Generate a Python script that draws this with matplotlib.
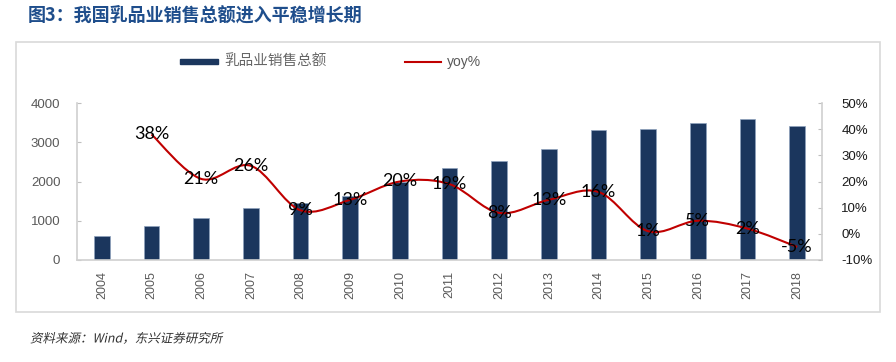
import matplotlib
matplotlib.use("Agg")
import matplotlib.pyplot as plt
from matplotlib.path import Path
from matplotlib.patches import PathPatch, Rectangle
from matplotlib.lines import Line2D
from matplotlib.patheffects import AbstractPathEffect
from matplotlib.transforms import Affine2D
import numpy as np

years = ["2004", "2005", "2006", "2007", "2008", "2009", "2010", "2011",
         "2012", "2013", "2014", "2015", "2016", "2017", "2018"]
sales = [610, 870, 1060, 1315, 1440, 1630, 1980, 2335,
         2515, 2820, 3300, 3330, 3485, 3590, 3405]
yoy_years = years[1:]
yoy = [38, 21, 26, 9, 13, 20, 19, 8, 13, 16, 1, 5, 2, -5]
yoy_labels = ["38%", "21%", "26%", "9%", "13%", "20%", "19%", "8%",
              "13%", "16%", "1%", "5%", "2%", "-5%"]

title = "图3：我国乳品业销售总额进入平稳增长期"
legend_bar = "乳品业销售总额"
legend_line = "yoy%"
source = "资料来源：Wind，东兴证券研究所"


class Oblique(AbstractPathEffect):
    """Synthetic italic: shear glyph outlines about the baseline."""
    def __init__(self, angle=12):
        super().__init__()
        self._skew = Affine2D().skew_deg(angle, 0)

    def draw_path(self, renderer, gc, tpath, affine, rgbFace=None):
        renderer.draw_path(gc, tpath, self._skew + affine, rgbFace)


plt.rcParams['font.family'] = ['Liberation Sans', 'Noto Sans CJK SC']

fig = plt.figure(figsize=(8.96, 3.62), dpi=100)

# outer frame
fig.patches.append(Rectangle((16/896, 1-312/362), (880-16)/896, (312-42)/362,
                             transform=fig.transFigure, fill=False,
                             edgecolor="#d9d9d9", linewidth=1.2))

ax = fig.add_axes([77/896, 1-260/362, (822-77)/896, (260-103)/362])
x = np.arange(len(years))
bar_color = "#1b365d"
ax.bar(x, sales, width=0.32, color=bar_color, edgecolor="#8ea2bd", linewidth=0.5, zorder=2)
ax.set_xlim(-0.5, len(years)-0.5)
ax.set_ylim(0, 4000)
ax.set_yticks([0, 1000, 2000, 3000, 4000])
ax.set_xticks(x)
ax.set_xticklabels(years, rotation=90, color="#595959", fontsize=9)
for lab in ax.get_yticklabels():
    lab.set_color("#595959")
    lab.set_fontsize(9.5)
ax.tick_params(axis='y', direction='in', length=3, color="#bfbfbf", pad=12)
ax.tick_params(axis='x', length=0, pad=8)
for s in ['top', 'right']:
    ax.spines[s].set_visible(False)
for s in ['left', 'bottom']:
    ax.spines[s].set_color("#d0d0d0")
    ax.spines[s].set_linewidth(1.2)

ax2 = ax.twinx()
ax2.set_ylim(-10, 50)
ax2.set_yticks([-10, 0, 10, 20, 30, 40, 50])
ax2.set_yticklabels([f"{v}%" for v in [-10, 0, 10, 20, 30, 40, 50]], fontsize=9.5, color="#1a1a1a")
ax2.tick_params(axis='y', direction='in', length=3, color="#bfbfbf", pad=14)
for s in ['top', 'left', 'bottom']:
    ax2.spines[s].set_visible(False)
ax2.spines['right'].set_color("#d0d0d0")
ax2.spines['right'].set_linewidth(1.2)

# smoothed line (Bezier segments through data points, like Excel smoothing)
px = np.array([years.index(y) for y in yoy_years], dtype=float)
py = np.array(yoy, dtype=float)
n = len(px)
verts = [(px[0], py[0])]
codes = [Path.MOVETO]
for i in range(n-1):
    p0 = np.array([px[max(i-1, 0)], py[max(i-1, 0)]])
    p1 = np.array([px[i], py[i]])
    p2 = np.array([px[i+1], py[i+1]])
    p3 = np.array([px[min(i+2, n-1)], py[min(i+2, n-1)]])
    c1 = p1 + (p2 - p0) / 6.0
    c2 = p2 - (p3 - p1) / 6.0
    verts += [tuple(c1), tuple(c2), tuple(p2)]
    codes += [Path.CURVE4] * 3
line_color = "#c00000"
ax2.add_patch(PathPatch(Path(verts, codes), fill=False, edgecolor=line_color, linewidth=1.5, zorder=3))

for xi, yi, lab in zip(px, py, yoy_labels):
    ax2.text(xi, yi, lab, ha='center', va='center', fontsize=13,
             family=['Lato', 'DejaVu Sans'], color="black", zorder=4)

# legend
fig.patches.append(Rectangle((180/896, 1-64/362), 38/896, 5/362, transform=fig.transFigure,
                             color=bar_color))
fig.text(224/896, 1-62/362, legend_bar, fontsize=10.5, color="#666666", va='center', ha='left',
         family=['Noto Sans CJK SC'])
fig.lines.append(Line2D([405/896, 441/896], [1-62/362, 1-62/362], transform=fig.transFigure,
                        color=line_color, linewidth=1.5))
fig.text(447/896, 1-62/362, legend_line, fontsize=10, color="#595959", va='center', ha='left')

fig.text(28/896, 1-15/362, title, fontsize=13, fontweight='bold', color="#1f4e8c",
         va='center', ha='left', family=['Noto Sans CJK SC', 'DejaVu Sans'])
fig.text(30/896, 1-339/362, source, fontsize=9, color="#333333",
         va='center', ha='left', family=['Noto Sans CJK SC', 'DejaVu Sans'],
         path_effects=[Oblique(12)])

fig.savefig("out.png", dpi=100)
